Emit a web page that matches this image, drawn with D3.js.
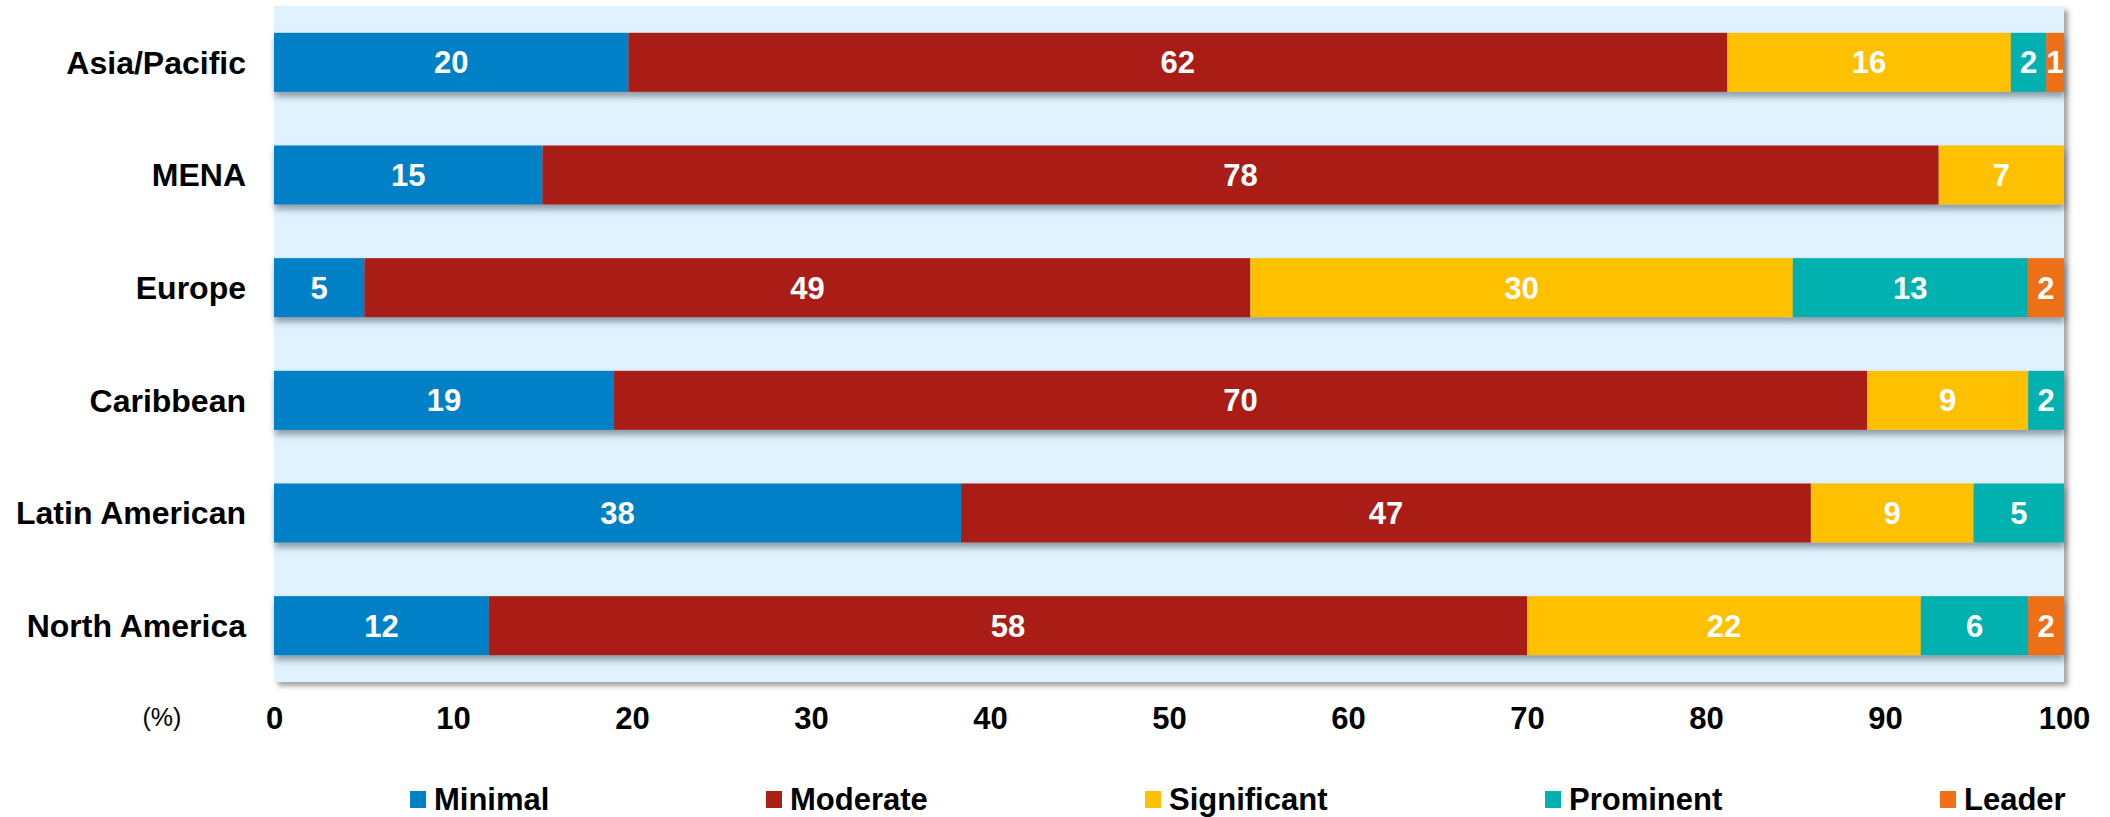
<!DOCTYPE html>
<html>
<head>
<meta charset="utf-8">
<script src="https://cdn.jsdelivr.net/npm/d3@7"></script>
<style>
  html, body { margin: 0; padding: 0; background: #ffffff; }
  svg { display: block; font-family: "Liberation Sans", Arial, sans-serif; }
</style>
</head>
<body>
<svg id="chart" width="2110" height="817"></svg>
<script>
// Regions, top to bottom
const categories = ["Asia/Pacific", "MENA", "Europe", "Caribbean", "Latin American", "North America"];

// Share of respondents at each level (%), per region
const seriesNames = ["Minimal", "Moderate", "Significant", "Prominent", "Leader"];
const minimal     = [20, 15,  5, 19, 38, 12];
const moderate    = [62, 78, 49, 70, 47, 58];
const significant = [16,  7, 30,  9,  9, 22];
const prominent   = [ 2,  0, 13,  2,  5,  6];
const leader      = [ 1,  0,  2,  0,  0,  2];

const xTicks = [0, 10, 20, 30, 40, 50, 60, 70, 80, 90, 100];

const colors = ["#0080C6", "#AA1F17", "#FFC000", "#02B1AF", "#ED7017"];

const seriesValues = [minimal, moderate, significant, prominent, leader];

const svg = d3.select("#chart");

const plot = { left: 274, right: 2064, top: 6, bottom: 682 };

const x = d3.scaleLinear().domain([0, 100]).range([plot.left, plot.right]);
const y = d3.scaleBand().domain(categories)
  .range([plot.top, plot.bottom])
  .paddingInner(0.476)
  .paddingOuter(0.238);

const color = d3.scaleOrdinal().domain(seriesNames).range(colors);

// Shadows
const defs = svg.append("defs");
defs.append("filter").attr("id", "panelShadow")
  .attr("x", "-2%").attr("y", "-2%").attr("width", "104%").attr("height", "106%")
  .append("feDropShadow")
  .attr("dx", 4).attr("dy", 4).attr("stdDeviation", 2.5)
  .attr("flood-color", "#555").attr("flood-opacity", 0.55);
defs.append("filter").attr("id", "barShadow")
  .attr("x", "-2%").attr("y", "-20%").attr("width", "104%").attr("height", "150%")
  .append("feDropShadow")
  .attr("dx", 1).attr("dy", 5).attr("stdDeviation", 3)
  .attr("flood-color", "#4a5560").attr("flood-opacity", 0.55);

// Panel background
svg.append("rect")
  .attr("x", plot.left).attr("y", plot.top)
  .attr("width", plot.right - plot.left).attr("height", plot.bottom - plot.top)
  .attr("fill", "#E0F2FD")
  .attr("filter", "url(#panelShadow)");

// Rows normalised to 100% and stacked
const rows = categories.map((cat, i) => {
  const vals = seriesValues.map(s => s[i]);
  const total = d3.sum(vals);
  let acc = 0;
  const segs = vals.map((v, k) => {
    const share = v / total * 100;
    const seg = { cat, series: seriesNames[k], value: v, x0: acc, x1: acc + share };
    acc += share;
    return seg;
  }).filter(d => d.value > 0);
  return { cat, segs };
});

const rowG = svg.append("g").selectAll("g.row")
  .data(rows).join("g")
  .attr("class", "row")
  .attr("filter", "url(#barShadow)");

rowG.selectAll("rect")
  .data(d => d.segs).join("rect")
  .attr("x", d => x(d.x0))
  .attr("y", d => y(d.cat))
  .attr("width", d => x(d.x1) - x(d.x0))
  .attr("height", y.bandwidth())
  .attr("fill", d => color(d.series));

// Value labels
const labelG = svg.append("g");
rows.forEach(r => {
  labelG.selectAll(null)
    .data(r.segs).join("text")
    .attr("x", d => (x(d.x0) + x(d.x1)) / 2)
    .attr("y", d => y(d.cat) + y.bandwidth() / 2)
    .attr("dy", "0.35em")
    .attr("text-anchor", "middle")
    .attr("fill", "#ffffff")
    .attr("font-size", 31)
    .attr("font-weight", "bold")
    .text(d => d.value);
});

// Category axis labels
svg.append("g").selectAll("text")
  .data(categories).join("text")
  .attr("x", 246)
  .attr("y", d => y(d) + y.bandwidth() / 2)
  .attr("dy", "0.35em")
  .attr("text-anchor", "end")
  .attr("fill", "#000")
  .attr("font-size", 32)
  .attr("font-weight", "bold")
  .text(d => d);

// Value axis
const xAxis = svg.append("g")
  .attr("transform", `translate(0,${plot.bottom})`)
  .call(d3.axisBottom(x).tickValues(xTicks).tickSize(0).tickFormat(d3.format("d")));
xAxis.select(".domain").remove();
xAxis.selectAll("text")
  .attr("y", 36.5)
  .attr("dy", "0.35em")
  .attr("fill", "#000")
  .attr("font-size", 31)
  .attr("font-weight", "bold")
  .attr("font-family", "'Liberation Sans', Arial, sans-serif");

svg.append("text")
  .attr("x", 162).attr("y", 717)
  .attr("dy", "0.35em")
  .attr("text-anchor", "middle")
  .attr("font-size", 25)
  .attr("fill", "#000")
  .text("(%)");

// Legend: swatch + label, spread across the width under the axis
const legendX = [410, 766, 1145, 1545, 1940];
const legend = svg.append("g");
seriesNames.forEach((name, k) => {
  legend.append("rect")
    .attr("x", legendX[k]).attr("y", 791)
    .attr("width", 16).attr("height", 17)
    .attr("fill", colors[k]);
  legend.append("text")
    .attr("x", legendX[k] + 24).attr("y", 799)
    .attr("dy", "0.35em")
    .attr("font-size", 31)
    .attr("font-weight", "bold")
    .attr("fill", "#000")
    .text(name);
});
</script>
</body>
</html>
